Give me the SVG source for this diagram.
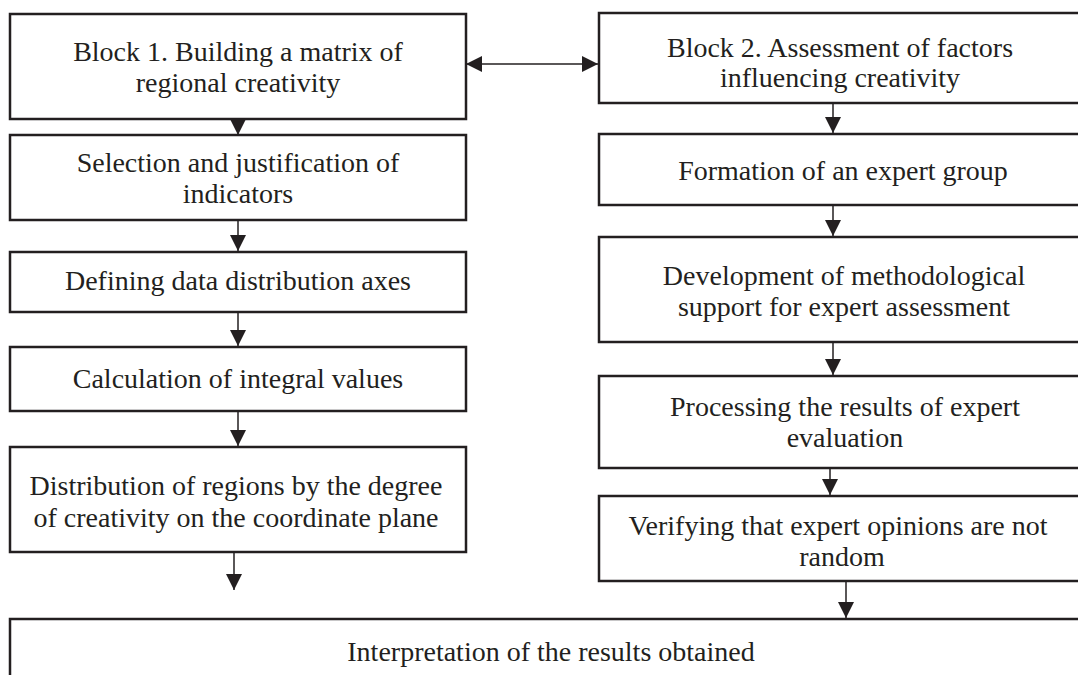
<svg xmlns="http://www.w3.org/2000/svg" width="1078" height="675" viewBox="0 0 1078 675">
<style>
.box{fill:#fff;stroke:#231f20;stroke-width:2.5}
.t{font-family:"Liberation Serif","Times New Roman",serif;font-size:28px;fill:#231f20;text-anchor:middle}
.c{stroke:#231f20;stroke-width:1.5;fill:none}
</style>
<defs>
<marker id="ah" markerUnits="userSpaceOnUse" markerWidth="16" markerHeight="16" viewBox="0 0 16 16" refX="16" refY="8" orient="auto-start-reverse">
<path d="M0,0 L16,8 L0,16 Z" fill="#231f20"/>
</marker>
</defs>
<rect width="1078" height="675" fill="#fff"/>
<g id="b1"><rect class="box" x="10" y="14" width="456" height="105"/><text class="t" x="238" y="61">Block 1. Building a matrix of</text><text class="t" x="238" y="92">regional creativity</text></g>
<g id="sel"><rect class="box" x="10" y="135" width="456" height="85"/><text class="t" x="238" y="172">Selection and justification of</text><text class="t" x="238" y="203">indicators</text></g>
<g id="def"><rect class="box" x="10" y="252" width="456" height="60"/><text class="t" x="238" y="290">Defining data distribution axes</text></g>
<g id="calc"><rect class="box" x="10" y="347" width="456" height="64"/><text class="t" x="238" y="388">Calculation of integral values</text></g>
<g id="dist"><rect class="box" x="10" y="447" width="456" height="105"/><text class="t" x="236" y="495">Distribution of regions by the degree</text><text class="t" x="236" y="527">of creativity on the coordinate plane</text></g>
<g id="b2"><rect class="box" x="599" y="13" width="490" height="90"/><text class="t" x="840" y="57">Block 2. Assessment of factors</text><text class="t" x="840" y="87">influencing creativity</text></g>
<g id="form"><rect class="box" x="599" y="134" width="490" height="71"/><text class="t" x="843" y="180">Formation of an expert group</text></g>
<g id="dev"><rect class="box" x="599" y="237" width="490" height="105"/><text class="t" x="844" y="285">Development of methodological</text><text class="t" x="844" y="316">support for expert assessment</text></g>
<g id="proc"><rect class="box" x="599" y="376" width="490" height="92"/><text class="t" x="845" y="416">Processing the results of expert</text><text class="t" x="845" y="447">evaluation</text></g>
<g id="ver"><rect class="box" x="599" y="496" width="490" height="85"/><text class="t" x="838" y="535">Verifying that expert opinions are not</text><text class="t" x="842" y="566">random</text></g>
<g id="interp"><rect class="box" x="10" y="619" width="1090" height="80"/><text class="t" x="551" y="661">Interpretation of the results obtained</text></g>
<g id="connectors">
<line class="c" x1="466" y1="64" x2="598" y2="64" marker-start="url(#ah)" marker-end="url(#ah)"/>
<line class="c" x1="238" y1="119" x2="238" y2="135" marker-end="url(#ah)"/>
<line class="c" x1="238" y1="220" x2="238" y2="251" marker-end="url(#ah)"/>
<line class="c" x1="238" y1="312" x2="238" y2="346" marker-end="url(#ah)"/>
<line class="c" x1="238" y1="411" x2="238" y2="446" marker-end="url(#ah)"/>
<line class="c" x1="234" y1="552" x2="234" y2="590" marker-end="url(#ah)"/>
<line class="c" x1="833" y1="103" x2="833" y2="133" marker-end="url(#ah)"/>
<line class="c" x1="833" y1="205" x2="833" y2="236" marker-end="url(#ah)"/>
<line class="c" x1="833" y1="342" x2="833" y2="375" marker-end="url(#ah)"/>
<line class="c" x1="830" y1="468" x2="830" y2="495" marker-end="url(#ah)"/>
<line class="c" x1="846" y1="581" x2="846" y2="618" marker-end="url(#ah)"/>
</g>
</svg>
